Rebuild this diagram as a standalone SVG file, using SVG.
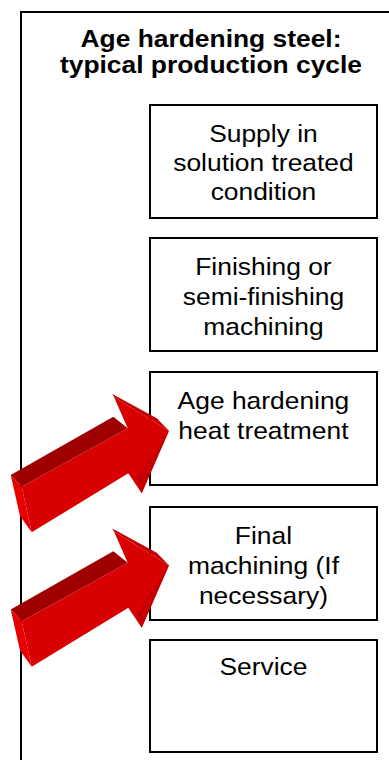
<svg xmlns="http://www.w3.org/2000/svg" width="389" height="760" viewBox="0 0 389 760">
<style>
.box{fill:#fff;stroke:#000;stroke-width:2}
.t{font-family:"Liberation Sans",Arial,sans-serif;font-size:24px;fill:#000;text-anchor:middle}
.b{font-weight:bold}
.front{fill:#d80000}
.top{fill:#9e0000}
.tail{fill:#e80000}
.barb{fill:#c40000}
</style>
<defs>
<g id="arrow">
<polygon class="front" points="21.7,486.7 127.7,428.3 114,397 169,430.7 141.7,493.3 128.3,473.3 31.7,532.3"/>
<polygon class="top" points="10.7,475 113.3,416.7 127.7,428.3 21.7,486.7"/>
<polygon class="tail" points="10.7,475 21.7,486.7 31.7,532.3 20,516"/>
<polygon class="barb" points="112.3,394 156.7,418.3 169,430.7 114,397"/>
<polygon class="barb" points="169,430.7 141.7,493.3 136,480"/>
</g>
</defs>
<rect width="389" height="760" fill="#fff"/>
<path d="M21,760 V12 H389" fill="none" stroke="#000" stroke-width="2"/>
<g id="title" transform="scale(1.1 1)">
<text class="t b" x="191.8" y="47">Age hardening steel:</text>
<text class="t b" x="191.8" y="73">typical production cycle</text>
</g>
<g id="n1">
<rect class="box" x="150" y="105" width="227" height="113"/>
<g transform="scale(1.1 1)"><text class="t" x="239.5" y="142">Supply in</text><text class="t" x="239.5" y="171">solution treated</text><text class="t" x="239.5" y="200">condition</text></g>
</g>
<g id="n2">
<rect class="box" x="150" y="238" width="227" height="113"/>
<g transform="scale(1.1 1)"><text class="t" x="239.5" y="275">Finishing or</text><text class="t" x="239.5" y="305">semi-finishing</text><text class="t" x="239.5" y="335">machining</text></g>
</g>
<g id="n3">
<rect class="box" x="150" y="372" width="227" height="113"/>
<g transform="scale(1.1 1)"><text class="t" x="239.5" y="409">Age hardening</text><text class="t" x="239.5" y="439">heat treatment</text></g>
</g>
<g id="n4">
<rect class="box" x="150" y="507" width="227" height="113"/>
<g transform="scale(1.1 1)"><text class="t" x="239.5" y="544">Final</text><text class="t" x="239.5" y="574">machining (If</text><text class="t" x="239.5" y="604">necessary)</text></g>
</g>
<g id="n5">
<rect class="box" x="150" y="640" width="227" height="112"/>
<g transform="scale(1.1 1)"><text class="t" x="239.5" y="675">Service</text></g>
</g>
<g id="connectors">
<use href="#arrow"/>
<use href="#arrow" transform="translate(0 134.5)"/>
</g>
</svg>
